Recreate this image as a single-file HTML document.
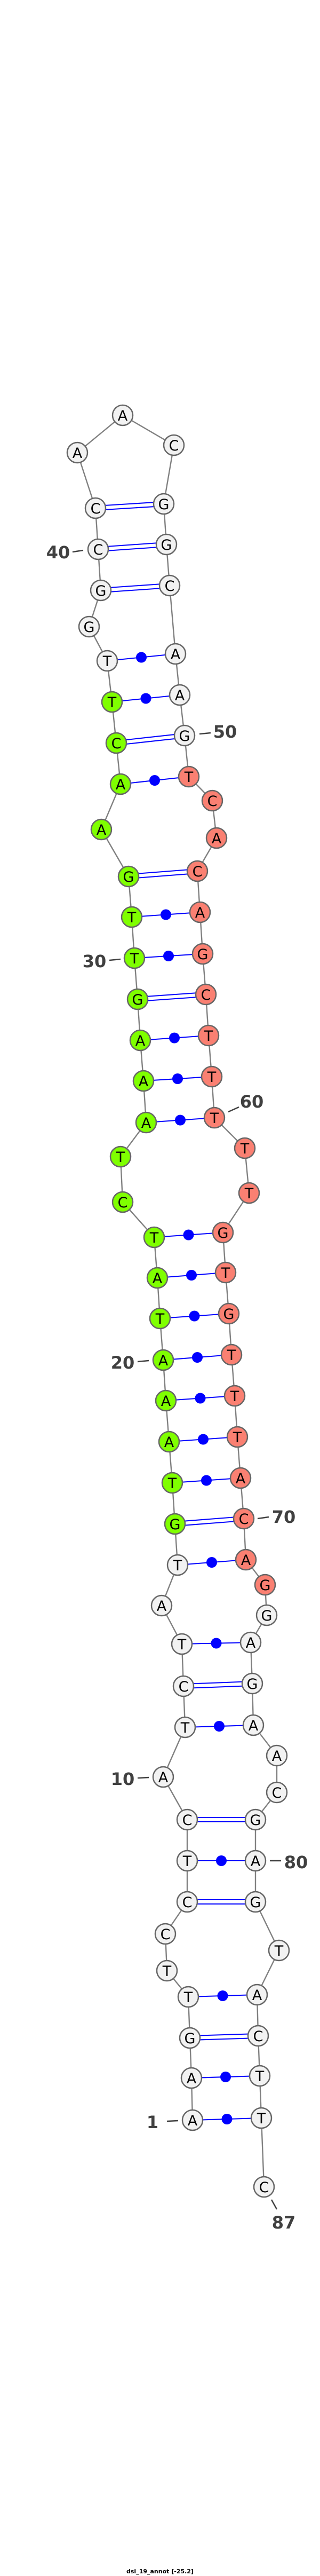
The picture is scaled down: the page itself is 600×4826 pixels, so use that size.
<!DOCTYPE html>
<html><head><meta charset="utf-8"><style>
html,body{margin:0;padding:0;background:#fff;}
svg{display:block;}
.n{stroke:#666;stroke-width:2.5;}
.w{fill:#f2f2f2;}.g{fill:#7fff00;}.r{fill:#fa8072;}
.t{font-family:"DejaVu Sans","Liberation Sans",sans-serif;font-size:27px;text-anchor:middle;fill:#000;}
.lb{font-family:"DejaVu Sans","Liberation Sans",sans-serif;font-size:32px;font-weight:bold;text-anchor:middle;fill:#404040;}
.tk{stroke:#404040;stroke-width:2.5;}
.p{stroke:#0000ff;stroke-width:2;}
</style></head><body>
<svg width="600" height="4826" viewBox="0 0 600 4826" xmlns="http://www.w3.org/2000/svg">
<polyline fill="none" stroke="#808080" stroke-width="2.4" points="361,3972 359,3893 356,3818 353,3741 313,3692 310,3623 351,3563 351,3486 351,3409 306,3329 347,3236 344,3159 341,3080 303,3008 333,2932 328,2855 323,2778 317,2701 311,2624 306,2548 300,2470 295,2394 289,2318 230,2252 226,2167 274,2103 269,2025 263,1949 258,1872 252,1795 247,1718 241,1642 190,1554 226,1469 218,1392 210,1315 201,1238 167,1174 189,1106 184,1029 179,952 145,848 230,778 326,834 307,944 312,1020 318,1097 329,1225 337,1302 346,1378 354,1455 398,1500 406,1570 370,1632 375,1709 380,1787 386,1863 391,1940 397,2017 402,2094 459,2151 467,2235 418,2309 423,2384 429,2461 434,2538 440,2615 445,2692 451,2769 457,2845 461,2922 497,2969 500,3026 470,3077 473,3154 475,3232 519,3289 519,3358 479,3409 479,3486 479,3563 523,3654 482,3737 484,3814 487,3889 490,3968 495,4097"/>
<g class="p">
<line x1="179" y1="948" x2="307" y2="940"/><line x1="179" y1="956" x2="307" y2="948"/>
<line x1="184" y1="1025" x2="312" y2="1016"/><line x1="184" y1="1033" x2="312" y2="1024"/>
<line x1="189" y1="1102" x2="318" y2="1093"/><line x1="189" y1="1110" x2="318" y2="1101"/>
<line x1="218" y1="1388" x2="346" y2="1374"/><line x1="218" y1="1396" x2="346" y2="1382"/>
<line x1="241" y1="1638" x2="370" y2="1628"/><line x1="241" y1="1646" x2="370" y2="1636"/>
<line x1="258" y1="1868" x2="386" y2="1859"/><line x1="258" y1="1876" x2="386" y2="1867"/>
<line x1="328" y1="2851" x2="457" y2="2841"/><line x1="328" y1="2859" x2="457" y2="2849"/>
<line x1="344" y1="3155" x2="473" y2="3150"/><line x1="344" y1="3163" x2="473" y2="3158"/>
<line x1="351" y1="3405" x2="479" y2="3405"/><line x1="351" y1="3413" x2="479" y2="3413"/>
<line x1="351" y1="3559" x2="479" y2="3559"/><line x1="351" y1="3567" x2="479" y2="3567"/>
<line x1="356" y1="3814" x2="484" y2="3810"/><line x1="356" y1="3822" x2="484" y2="3818"/>
<line x1="201" y1="1238" x2="329" y2="1225"/>
<line x1="210" y1="1315" x2="337" y2="1302"/>
<line x1="226" y1="1469" x2="354" y2="1455"/>
<line x1="247" y1="1718" x2="375" y2="1709"/>
<line x1="252" y1="1795" x2="380" y2="1787"/>
<line x1="263" y1="1949" x2="391" y2="1940"/>
<line x1="269" y1="2025" x2="397" y2="2017"/>
<line x1="274" y1="2103" x2="402" y2="2094"/>
<line x1="289" y1="2318" x2="418" y2="2309"/>
<line x1="295" y1="2394" x2="423" y2="2384"/>
<line x1="300" y1="2470" x2="429" y2="2461"/>
<line x1="306" y1="2548" x2="434" y2="2538"/>
<line x1="311" y1="2624" x2="440" y2="2615"/>
<line x1="317" y1="2701" x2="445" y2="2692"/>
<line x1="323" y1="2778" x2="451" y2="2769"/>
<line x1="333" y1="2932" x2="461" y2="2922"/>
<line x1="341" y1="3080" x2="470" y2="3077"/>
<line x1="347" y1="3236" x2="475" y2="3232"/>
<line x1="351" y1="3486" x2="479" y2="3486"/>
<line x1="353" y1="3741" x2="482" y2="3737"/>
<line x1="359" y1="3893" x2="487" y2="3889"/>
<line x1="361" y1="3972" x2="490" y2="3968"/>
</g>
<g fill="#0000ff">
<circle cx="265" cy="1231.5" r="10"/><circle cx="273.5" cy="1308.5" r="10"/><circle cx="290" cy="1462" r="10"/>
<circle cx="311" cy="1713.5" r="10"/><circle cx="316" cy="1791" r="10"/><circle cx="327" cy="1944.5" r="10"/>
<circle cx="333" cy="2021" r="10"/><circle cx="338" cy="2098.5" r="10"/><circle cx="353.5" cy="2313.5" r="10"/>
<circle cx="359" cy="2389" r="10"/><circle cx="364.5" cy="2465.5" r="10"/><circle cx="370" cy="2543" r="10"/>
<circle cx="375.5" cy="2619.5" r="10"/><circle cx="381" cy="2696.5" r="10"/><circle cx="387" cy="2773.5" r="10"/>
<circle cx="397" cy="2927" r="10"/><circle cx="405.5" cy="3078.5" r="10"/><circle cx="411" cy="3234" r="10"/>
<circle cx="415" cy="3486" r="10"/><circle cx="417.5" cy="3739" r="10"/><circle cx="423" cy="3891" r="10"/>
<circle cx="425.5" cy="3970" r="10"/>
</g>
<g class="n">
<circle class="w" cx="361" cy="3972" r="19"/><circle class="w" cx="359" cy="3893" r="19"/><circle class="w" cx="356" cy="3818" r="19"/><circle class="w" cx="353" cy="3741" r="19"/><circle class="w" cx="313" cy="3692" r="19"/><circle class="w" cx="310" cy="3623" r="19"/><circle class="w" cx="351" cy="3563" r="19"/><circle class="w" cx="351" cy="3486" r="19"/><circle class="w" cx="351" cy="3409" r="19"/><circle class="w" cx="306" cy="3329" r="19"/><circle class="w" cx="347" cy="3236" r="19"/><circle class="w" cx="344" cy="3159" r="19"/><circle class="w" cx="341" cy="3080" r="19"/><circle class="w" cx="303" cy="3008" r="19"/><circle class="w" cx="333" cy="2932" r="19"/>
<circle class="g" cx="328" cy="2855" r="19"/><circle class="g" cx="323" cy="2778" r="19"/><circle class="g" cx="317" cy="2701" r="19"/><circle class="g" cx="311" cy="2624" r="19"/><circle class="g" cx="306" cy="2548" r="19"/><circle class="g" cx="300" cy="2470" r="19"/><circle class="g" cx="295" cy="2394" r="19"/><circle class="g" cx="289" cy="2318" r="19"/><circle class="g" cx="230" cy="2252" r="19"/><circle class="g" cx="226" cy="2167" r="19"/><circle class="g" cx="274" cy="2103" r="19"/><circle class="g" cx="269" cy="2025" r="19"/><circle class="g" cx="263" cy="1949" r="19"/><circle class="g" cx="258" cy="1872" r="19"/><circle class="g" cx="252" cy="1795" r="19"/><circle class="g" cx="247" cy="1718" r="19"/><circle class="g" cx="241" cy="1642" r="19"/><circle class="g" cx="190" cy="1554" r="19"/><circle class="g" cx="226" cy="1469" r="19"/><circle class="g" cx="218" cy="1392" r="19"/><circle class="g" cx="210" cy="1315" r="19"/>
<circle class="w" cx="201" cy="1238" r="19"/><circle class="w" cx="167" cy="1174" r="19"/><circle class="w" cx="189" cy="1106" r="19"/><circle class="w" cx="184" cy="1029" r="19"/><circle class="w" cx="179" cy="952" r="19"/><circle class="w" cx="145" cy="848" r="19"/><circle class="w" cx="230" cy="778" r="19"/><circle class="w" cx="326" cy="834" r="19"/><circle class="w" cx="307" cy="944" r="19"/><circle class="w" cx="312" cy="1020" r="19"/><circle class="w" cx="318" cy="1097" r="19"/><circle class="w" cx="329" cy="1225" r="19"/><circle class="w" cx="337" cy="1302" r="19"/><circle class="w" cx="346" cy="1378" r="19"/>
<circle class="r" cx="354" cy="1455" r="19"/><circle class="r" cx="398" cy="1500" r="19"/><circle class="r" cx="406" cy="1570" r="19"/><circle class="r" cx="370" cy="1632" r="19"/><circle class="r" cx="375" cy="1709" r="19"/><circle class="r" cx="380" cy="1787" r="19"/><circle class="r" cx="386" cy="1863" r="19"/><circle class="r" cx="391" cy="1940" r="19"/><circle class="r" cx="397" cy="2017" r="19"/><circle class="r" cx="402" cy="2094" r="19"/><circle class="r" cx="459" cy="2151" r="19"/><circle class="r" cx="467" cy="2235" r="19"/><circle class="r" cx="418" cy="2309" r="19"/><circle class="r" cx="423" cy="2384" r="19"/><circle class="r" cx="429" cy="2461" r="19"/><circle class="r" cx="434" cy="2538" r="19"/><circle class="r" cx="440" cy="2615" r="19"/><circle class="r" cx="445" cy="2692" r="19"/><circle class="r" cx="451" cy="2769" r="19"/><circle class="r" cx="457" cy="2845" r="19"/><circle class="r" cx="461" cy="2922" r="19"/><circle class="r" cx="497" cy="2969" r="19"/>
<circle class="w" cx="500" cy="3026" r="19"/><circle class="w" cx="470" cy="3077" r="19"/><circle class="w" cx="473" cy="3154" r="19"/><circle class="w" cx="475" cy="3232" r="19"/><circle class="w" cx="519" cy="3289" r="19"/><circle class="w" cx="519" cy="3358" r="19"/><circle class="w" cx="479" cy="3409" r="19"/><circle class="w" cx="479" cy="3486" r="19"/><circle class="w" cx="479" cy="3563" r="19"/><circle class="w" cx="523" cy="3654" r="19"/><circle class="w" cx="482" cy="3737" r="19"/><circle class="w" cx="484" cy="3814" r="19"/><circle class="w" cx="487" cy="3889" r="19"/><circle class="w" cx="490" cy="3968" r="19"/><circle class="w" cx="495" cy="4097" r="19"/>
</g>
<g class="t">
<text x="361" y="3982">A</text><text x="359" y="3903">A</text><text x="356" y="3828">G</text><text x="353" y="3751">T</text><text x="313" y="3702">T</text><text x="310" y="3633">C</text><text x="351" y="3573">C</text><text x="351" y="3496">T</text><text x="351" y="3419">C</text><text x="306" y="3339">A</text><text x="347" y="3246">T</text><text x="344" y="3169">C</text><text x="341" y="3090">T</text><text x="303" y="3018">A</text><text x="333" y="2942">T</text>
<text x="328" y="2865">G</text><text x="323" y="2788">T</text><text x="317" y="2711">A</text><text x="311" y="2634">A</text><text x="306" y="2558">A</text><text x="300" y="2480">T</text><text x="295" y="2404">A</text><text x="289" y="2328">T</text><text x="230" y="2262">C</text><text x="226" y="2177">T</text><text x="274" y="2113">A</text><text x="269" y="2035">A</text><text x="263" y="1959">A</text><text x="258" y="1882">G</text><text x="252" y="1805">T</text><text x="247" y="1728">T</text><text x="241" y="1652">G</text><text x="190" y="1564">A</text><text x="226" y="1479">A</text><text x="218" y="1402">C</text><text x="210" y="1325">T</text>
<text x="201" y="1248">T</text><text x="167" y="1184">G</text><text x="189" y="1116">G</text><text x="184" y="1039">C</text><text x="179" y="962">C</text><text x="145" y="858">A</text><text x="230" y="788">A</text><text x="326" y="844">C</text><text x="307" y="954">G</text><text x="312" y="1030">G</text><text x="318" y="1107">C</text><text x="329" y="1235">A</text><text x="337" y="1312">A</text><text x="346" y="1388">G</text>
<text x="354" y="1465">T</text><text x="398" y="1510">C</text><text x="406" y="1580">A</text><text x="370" y="1642">C</text><text x="375" y="1719">A</text><text x="380" y="1797">G</text><text x="386" y="1873">C</text><text x="391" y="1950">T</text><text x="397" y="2027">T</text><text x="402" y="2104">T</text><text x="459" y="2161">T</text><text x="467" y="2245">T</text><text x="418" y="2319">G</text><text x="423" y="2394">T</text><text x="429" y="2471">G</text><text x="434" y="2548">T</text><text x="440" y="2625">T</text><text x="445" y="2702">T</text><text x="451" y="2779">A</text><text x="457" y="2855">C</text><text x="461" y="2932">A</text><text x="497" y="2979">G</text>
<text x="500" y="3036">G</text><text x="470" y="3087">A</text><text x="473" y="3164">G</text><text x="475" y="3242">A</text><text x="519" y="3299">A</text><text x="519" y="3368">C</text><text x="479" y="3419">G</text><text x="479" y="3496">A</text><text x="479" y="3573">G</text><text x="523" y="3664">T</text><text x="482" y="3747">A</text><text x="484" y="3824">C</text><text x="487" y="3899">T</text><text x="490" y="3978">T</text><text x="495" y="4107">C</text>
</g>
<g class="tk">
<line x1="136" y1="1034" x2="156" y2="1031"/>
<line x1="374" y1="1375" x2="395" y2="1373"/>
<line x1="205" y1="1799" x2="226" y2="1797"/>
<line x1="428" y1="2083" x2="448" y2="2074"/>
<line x1="258" y1="2551" x2="279" y2="2549"/>
<line x1="483" y1="2845" x2="504" y2="2842"/>
<line x1="258" y1="3331" x2="279" y2="3330"/>
<line x1="506" y1="3486" x2="527" y2="3486"/>
<line x1="313" y1="3974" x2="334" y2="3973"/>
<line x1="509" y1="4121" x2="519" y2="4139"/>
</g>
<g class="lb">
<text x="109" y="1046">40</text>
<text x="422" y="1382">50</text>
<text x="177" y="1812">30</text>
<text x="472" y="2075">60</text>
<text x="230" y="2564">20</text>
<text x="532" y="2853">70</text>
<text x="230" y="3344">10</text>
<text x="555" y="3500">80</text>
<text x="286" y="3987">1</text>
<text x="532" y="4175">87</text>
</g>
<text x="300" y="4821" style="font-family:'DejaVu Sans','Liberation Sans',sans-serif;font-size:11px;font-weight:bold;text-anchor:middle;fill:#000;">dsi_19_annot [-25.2]</text>
</svg>
</body></html>
